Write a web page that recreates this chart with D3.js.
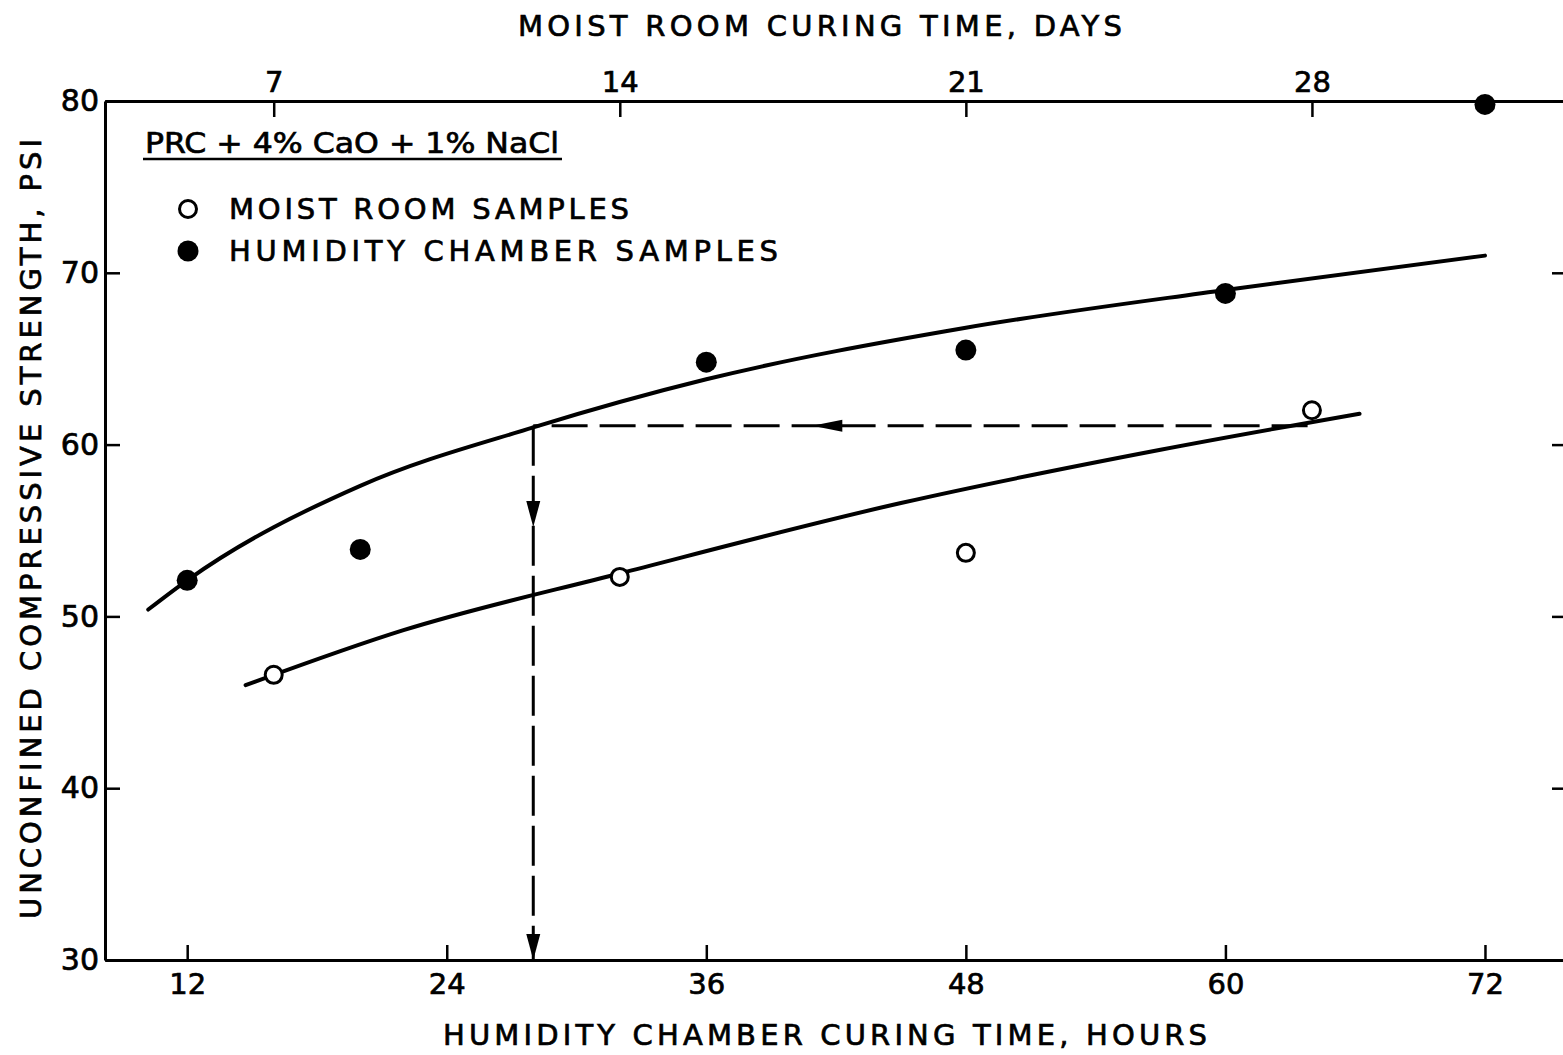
<!DOCTYPE html>
<html>
<head>
<meta charset="utf-8">
<script src="https://cdn.jsdelivr.net/npm/d3@7"></script>
<style>
  html, body { margin: 0; padding: 0; background: #fff; }
  svg { display: block; }
  text { font-family: "DejaVu Sans", sans-serif; fill: #000; stroke: #000; stroke-width: 0.7px; }
</style>
</head>
<body>
<script>
// Humidity chamber samples (hours) — filled circles
const humidityHours = [12, 20, 36, 48, 60, 72];
const humidityPsi   = [52.1, 53.9, 64.8, 65.5, 68.8, 79.8];

// Moist room samples (days) — open circles
const moistDays = [7, 14, 21, 28];
const moistPsi  = [46.6, 52.3, 53.7, 62.0];

// Hand-fitted trend curve through the humidity chamber results
const upperCurveHours = [10.2, 12, 20, 28, 36, 48, 60, 72];
const upperCurvePsi   = [50.4, 52.1, 57.6, 61.0, 63.8, 66.8, 69.0, 71.0];

// Hand-fitted trend curve through the moist room results (plotted in hours)
const lowerCurveHours = [14.7, 22, 32, 45, 57, 66.2];
const lowerCurvePsi   = [46.0, 49.2, 52.5, 56.6, 59.7, 61.8];

// Read-off construction: 28-day moist strength carried across to the chamber curve
const readoffPsi = 61.1;
const readoffFromHours = 63.8;
const readoffToHours = 28;
const leftArrowHours = 40.9;
const downArrowPsi = 55.2;

// Axis ticks
const hourTicks = [12, 24, 36, 48, 60, 72];
const dayTicks = [7, 14, 21, 28];
const psiTicks = [30, 40, 50, 60, 70, 80];

// 7 days of moist curing correspond to 16 hours in the humidity chamber
const HOURS_PER_DAY = 16 / 7;

const W = 1563, H = 1055;
const svg = d3.select("body").append("svg").attr("width", W).attr("height", H);

const x = d3.scaleLinear().domain([8.2, 75.7]).range([105, 1565]);
const xDays = d3.scaleLinear().domain(x.domain().map(h => h / HOURS_PER_DAY)).range(x.range());
const y = d3.scaleLinear().domain([30, 80]).range([960, 101]);

const [x0, x1] = x.range();
const [yB, yT] = y.range();

function styleAxis(g, fontSize) {
  g.select(".domain").attr("stroke", "#000").attr("stroke-width", 3);
  g.selectAll(".tick line").attr("stroke", "#000").attr("stroke-width", 2.5);
  g.selectAll(".tick text").attr("font-size", fontSize).attr("fill", "#000")
    .style("font-family", "'DejaVu Sans', sans-serif");
}

// Left axis (psi)
svg.append("g").attr("transform", `translate(${x0},0)`)
  .call(d3.axisLeft(y).tickValues(psiTicks).tickSizeInner(-15).tickSizeOuter(0).tickPadding(6))
  .call(g => styleAxis(g, 30));

// Right axis (ticks only)
svg.append("g").attr("transform", `translate(${x1},0)`)
  .call(d3.axisRight(y).tickValues(psiTicks).tickSizeInner(-13).tickSizeOuter(0).tickFormat(""))
  .call(g => styleAxis(g, 30));

// Bottom axis (hours)
svg.append("g").attr("transform", `translate(0,${yB})`)
  .call(d3.axisBottom(x).tickValues(hourTicks).tickSizeInner(-15).tickSizeOuter(0).tickPadding(13))
  .call(g => styleAxis(g, 29));

// Top axis (days)
svg.append("g").attr("transform", `translate(0,${yT})`)
  .call(d3.axisTop(xDays).tickValues(dayTicks).tickSizeInner(-16).tickSizeOuter(0).tickPadding(9))
  .call(g => styleAxis(g, 29));

// Axis titles
svg.append("text").attr("x", 820).attr("y", 36).attr("text-anchor", "middle")
  .attr("font-size", 29).attr("textLength", 604).attr("lengthAdjust", "spacing")
  .text("MOIST ROOM CURING TIME, DAYS");

svg.append("text").attr("x", 825).attr("y", 1045).attr("text-anchor", "middle")
  .attr("font-size", 29).attr("textLength", 764).attr("lengthAdjust", "spacing")
  .text("HUMIDITY CHAMBER CURING TIME, HOURS");

svg.append("text").attr("transform", "translate(41,529) rotate(-90)").attr("text-anchor", "middle")
  .attr("font-size", 29).attr("textLength", 780).attr("lengthAdjust", "spacing")
  .text("UNCONFINED COMPRESSIVE STRENGTH, PSI");

// Trend curves
const line = d3.line().x(d => x(d[0])).y(d => y(d[1])).curve(d3.curveMonotoneX);
const upperCurve = upperCurveHours.map((h, i) => [h, upperCurvePsi[i]]);
const lowerCurve = lowerCurveHours.map((h, i) => [h, lowerCurvePsi[i]]);

svg.append("path").attr("d", line(upperCurve)).attr("fill", "none")
  .attr("stroke", "#000").attr("stroke-width", 4).attr("stroke-linecap", "round");
svg.append("path").attr("d", line(lowerCurve)).attr("fill", "none")
  .attr("stroke", "#000").attr("stroke-width", 4).attr("stroke-linecap", "round");

// Dashed read-off lines
svg.append("line")
  .attr("x1", x(readoffFromHours)).attr("x2", x(readoffToHours))
  .attr("y1", y(readoffPsi)).attr("y2", y(readoffPsi))
  .attr("stroke", "#000").attr("stroke-width", 3).attr("stroke-dasharray", "36,12");
svg.append("line")
  .attr("x1", x(readoffToHours)).attr("x2", x(readoffToHours))
  .attr("y1", y(readoffPsi)).attr("y2", y(30))
  .attr("stroke", "#000").attr("stroke-width", 3).attr("stroke-dasharray", "40,10");

// Arrowheads on the read-off lines
function arrowLeft(tx, ty) {
  return `M${tx},${ty} L${tx + 30},${ty - 6} L${tx + 30},${ty + 6} Z`;
}
function arrowDown(tx, ty) {
  return `M${tx},${ty} L${tx - 7},${ty - 26} L${tx + 7},${ty - 26} Z`;
}
svg.append("path").attr("d", arrowLeft(x(leftArrowHours), y(readoffPsi))).attr("fill", "#000");
svg.append("path").attr("d", arrowDown(x(readoffToHours), y(downArrowPsi))).attr("fill", "#000");
svg.append("path").attr("d", arrowDown(x(readoffToHours), y(30))).attr("fill", "#000");

// Data points
svg.append("g").selectAll("circle")
  .data(humidityHours.map((h, i) => [h, humidityPsi[i]]))
  .join("circle")
  .attr("cx", d => x(d[0])).attr("cy", d => y(d[1])).attr("r", 10.5).attr("fill", "#000");

svg.append("g").selectAll("circle")
  .data(moistDays.map((d, i) => [d, moistPsi[i]]))
  .join("circle")
  .attr("cx", d => xDays(d[0])).attr("cy", d => y(d[1])).attr("r", 8.5)
  .attr("fill", "#fff").attr("stroke", "#000").attr("stroke-width", 3);

// Legend
const legend = svg.append("g");
legend.append("text").attr("x", 145).attr("y", 153).attr("font-size", 29)
  .attr("textLength", 414).attr("lengthAdjust", "spacingAndGlyphs")
  .text("PRC + 4% CaO + 1% NaCl");
legend.append("line").attr("x1", 143).attr("x2", 562).attr("y1", 159).attr("y2", 159)
  .attr("stroke", "#000").attr("stroke-width", 2.5);

legend.append("circle").attr("cx", 188).attr("cy", 209).attr("r", 8.5)
  .attr("fill", "#fff").attr("stroke", "#000").attr("stroke-width", 3);
legend.append("text").attr("x", 229).attr("y", 219).attr("font-size", 29)
  .attr("textLength", 400).attr("lengthAdjust", "spacing")
  .text("MOIST ROOM SAMPLES");

legend.append("circle").attr("cx", 188).attr("cy", 251).attr("r", 10.5).attr("fill", "#000");
legend.append("text").attr("x", 229).attr("y", 261).attr("font-size", 29)
  .attr("textLength", 549).attr("lengthAdjust", "spacing")
  .text("HUMIDITY CHAMBER SAMPLES");
</script>
</body>
</html>
